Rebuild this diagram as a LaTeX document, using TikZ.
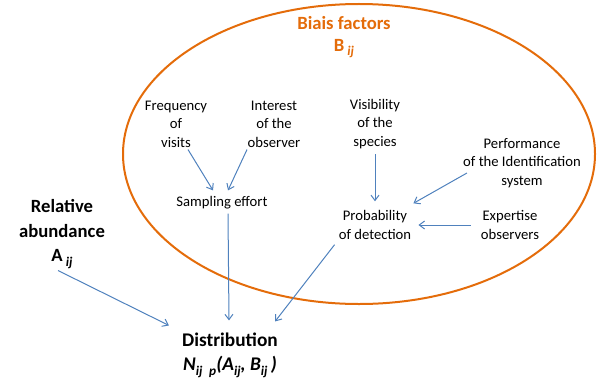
\documentclass[tikz,border=0pt]{standalone}
\usepackage{fontspec}
\setmainfont{Carlito}
\usetikzlibrary{arrows.meta, calc}

\definecolor{biasorange}{RGB}{228,108,10}
\definecolor{linkblue}{RGB}{79,129,189}

% lowered index, e.g. the ij of A_ij
\newcommand{\lowidx}[1]{\raisebox{-0.45ex}{\fontsize{10}{10}\selectfont\itshape #1}}

\begin{document}
\begin{tikzpicture}[x=0.75pt, y=-0.75pt,
    factor/.style={align=center, inner sep=0pt, font=\fontsize{11}{13.9}\selectfont},
    title/.style={align=center, inner sep=0pt, font=\fontsize{14}{18.4}\selectfont\bfseries},
    arrow/.style={-{Straight Barb[length=4pt, width=6pt]}, draw=linkblue, line width=0.75pt},
    frame/.style={draw=biasorange, line width=1.5pt}
]
\useasboundingbox (0,0) rectangle (606,385);

% Bias ellipse
\draw[frame] (359,154) ellipse [x radius=236, y radius=150];

% Main quantities
\node[title, text=biasorange, font=\fontsize{14}{16}\selectfont\bfseries] (bias) at (344,37) {Biais factors\\B\,\lowidx{ij}};
\node[title] (abund) at (62,234) {Relative\\abundance\\A\,\lowidx{ij}};
\node[title, font=\fontsize{14.5}{18.4}\selectfont\bfseries] (dist) at (230,355) {Distribution\\{\itshape N\lowidx{ij\enspace p}(A\lowidx{ij}, B\lowidx{ij}\,)}};

% Factors inside the ellipse
\node[factor] (freq) at (176,124) {Frequency\\of\\visits};
\node[factor] (inter) at (274,124) {Interest\\of the\\observer};
\node[factor] (samp) at (222,203) {Sampling effort};
\node[factor] (vis) at (375,124) {Visibility\\of the\\species};
\node[factor] (perf) at (522,163) {Performance\\of the Identification\\system};
\node[factor] (prob) at (375,225) {Probability\\of detection};
\node[factor] (expert) at (510,225) {Expertise\\observers};

% Links
\draw[arrow] ($(freq.south)+(12,2)$) -- ($(samp.north)+(-9,-6)$);
\draw[arrow] ($(inter.south)+(-27,2)$) -- ($(samp.north)+(6,-6)$);
\draw[arrow] ($(vis.south)+(0,5)$) -- ($(prob.north)+(0,-9)$);
\draw[arrow] ($(perf.west)+(4,10)$) -- ($(prob.north east)+(2,-7)$);
\draw[arrow] ($(expert.west)+(-10,0)$) -- ($(prob.east)+(7,0)$);
\draw[arrow] ($(samp.south)+(6,4)$) -- ($(dist.north)+(-1,-12)$);
\draw[arrow] ($(prob.south west)+(-4,5)$) -- ($(dist.north east)+(-3,-11)$);
\draw[arrow] ($(abund.south)+(-4,2)$) -- ($(dist.north west)+(-13,-7)$);

\end{tikzpicture}
\end{document}
